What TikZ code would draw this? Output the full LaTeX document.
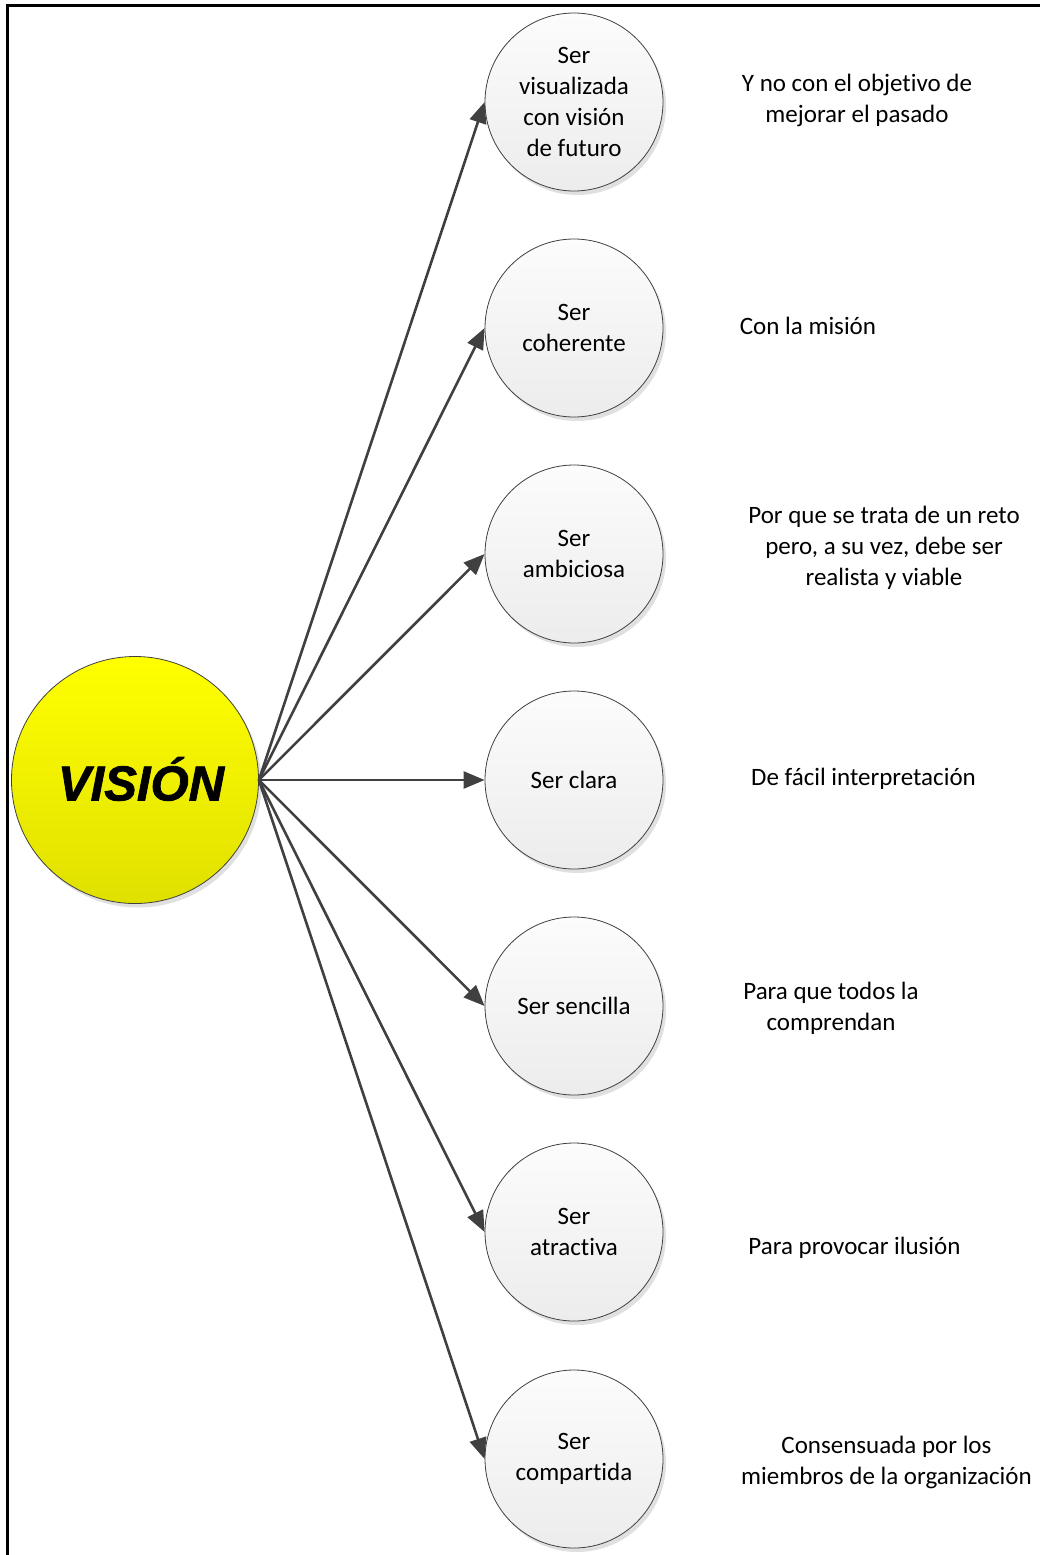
\documentclass[tikz,border=0pt]{standalone}
\usepackage{fontspec}
\setmainfont{Carlito}[Ligatures={NoCommon,NoRequired,NoContextual}]
\newfontfamily\visfont{Liberation Sans}[BoldItalicFeatures={FakeBold=1.6}]
\usetikzlibrary{arrows.meta,shadows}
\definecolor{linegray}{RGB}{64,64,64}
\definecolor{circtop}{RGB}{252,252,252}
\definecolor{circbot}{RGB}{236,236,236}
\definecolor{yeltop}{RGB}{255,255,0}
\definecolor{yelbot}{RGB}{224,224,0}
\tikzset{
  item/.style={circle, minimum size=178pt, inner sep=0pt, draw=black!75, line width=0.8pt,
    top color=circtop, bottom color=circbot, align=center,
    font=\fontsize{25}{31}\selectfont,
    drop shadow={shadow xshift=3pt, shadow yshift=-4pt, fill=black!12, opacity=1}},
  central/.style={circle, minimum size=247pt, inner sep=0pt, draw=black!75, line width=0.8pt,
    top color=yeltop, bottom color=yelbot,
    drop shadow={shadow xshift=3pt, shadow yshift=-4pt, fill=black!12, opacity=1}},
  note/.style={align=center, font=\fontsize{25}{31}\selectfont, inner sep=0pt},
  link/.style={draw=linegray, line width=2.6pt, -{Triangle[length=21pt,width=17pt]}},
}
\begin{document}
\begin{tikzpicture}[x=1pt,y=-1pt]
\useasboundingbox (0,0) rectangle (1040,1555);
\draw[line width=3pt] (7,1555) -- (7,6) -- (1040,6);
\node[central] (v) at (135,780) {};
\node[font=\visfont\bfseries\itshape\fontsize{49}{49}\selectfont] (vt) at (141,779) {VISIÓN};
\node[item] (c1) at (574,102) {Ser\\visualizada\\con visión\\de futuro};
\node[item] (c2) at (574,328) {Ser\\coherente};
\node[item] (c3) at (574,554) {Ser\\ambiciosa};
\node[item] (c4) at (574,780) {Ser clara};
\node[item] (c5) at (574,1006) {Ser sencilla};
\node[item] (c6) at (574,1232) {Ser\\atractiva};
\node[item] (c7) at (574,1459) {Ser\\compartida};
\node[note] (n1) at (857,100) {Y no con el objetivo de\\mejorar el pasado};
\node[note] (n2) at (808,326) {Con la misión};
\node[note] (n3) at (884,548) {Por que se trata de un reto\\pero, a su vez, debe ser\\realista y viable};
\node[note] (n4) at (863.5,779) {De fácil interpretación};
\node[note] (n5) at (831,1008) {Para que todos la\\comprendan};
\node[note] (n6) at (854.5,1248) {Para provocar ilusión};
\node[note] (n7) at (886.5,1462) {Consensuada por los\\miembros de la organización};
\foreach \i in {1,...,7} {
  \draw[link] (v.east) -- (c\i.west);
}
\end{tikzpicture}
\end{document}
